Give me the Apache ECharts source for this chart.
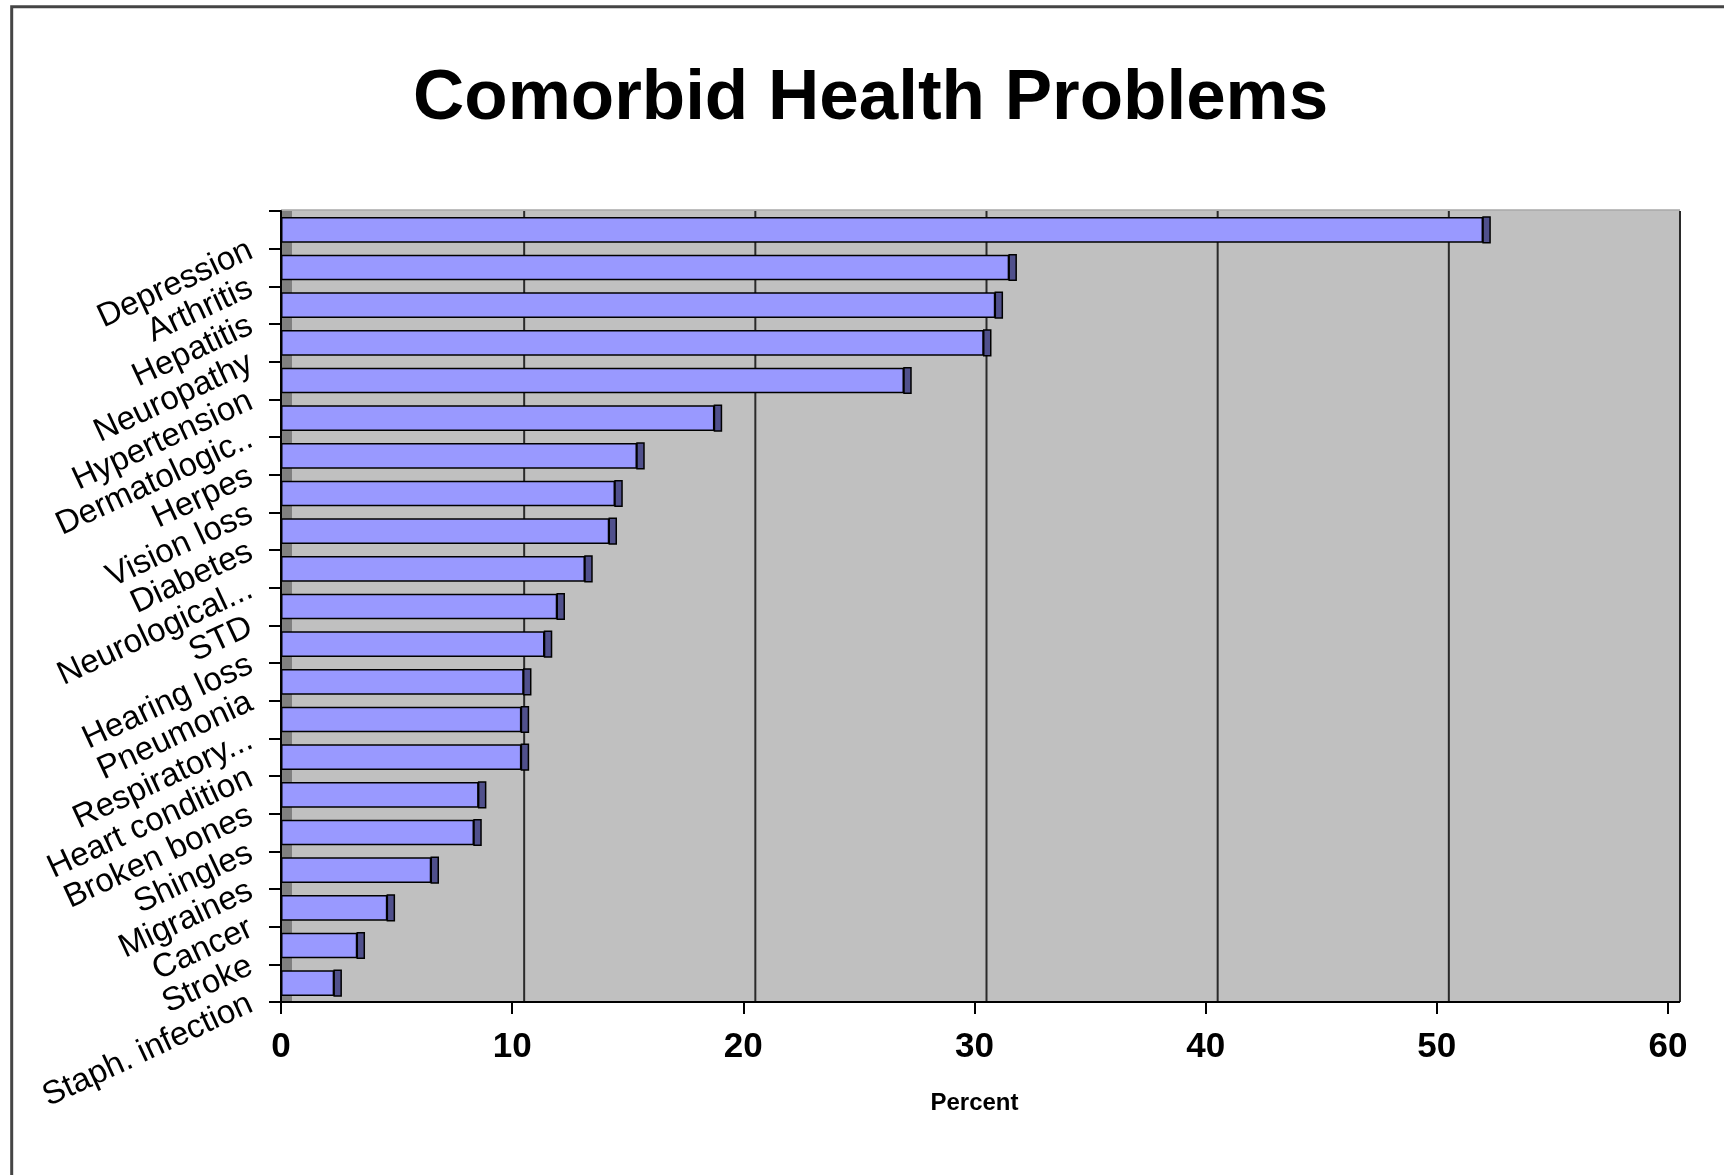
<!DOCTYPE html>
<html>
<head>
<meta charset="utf-8">
<script src="https://cdn.jsdelivr.net/npm/echarts@6/dist/echarts.min.js"></script>
<style>
html,body{margin:0;padding:0;background:#fff;}
#chart{width:1724px;height:1175px;}
</style>
</head>
<body>
<div id="chart"></div>
<script>
// ---- data ----
const categories = [
  'Depression', 'Arthritis', 'Hepatitis', 'Neuropathy', 'Hypertension',
  'Dermatologic..', 'Herpes', 'Vision loss', 'Diabetes', 'Neurological...',
  'STD', 'Hearing loss', 'Pneumonia', 'Respiratory...', 'Heart condition',
  'Broken bones', 'Shingles', 'Migraines', 'Cancer', 'Stroke', 'Staph. infection'
];
const percents = [
  52.0, 31.5, 30.9, 30.4, 26.95,
  18.75, 15.4, 14.45, 14.2, 13.15,
  11.95, 11.4, 10.5, 10.4, 10.4,
  8.55, 8.35, 6.5, 4.6, 3.3, 2.3
];
const xTickValues = [0, 10, 20, 30, 40, 50, 60];
const titleText = 'Comorbid Health Problems';
const xAxisName = 'Percent';

// ---- style ----
const FONT = "'Liberation Sans', Arial, Helvetica, sans-serif";
const DEPTH = 12;          // pseudo-3D depth offset of the back wall
const SIDE = 7;            // visible side face of each bar
const GAP = 0.32;          // category gap ratio

const xMin = xTickValues[0];
const xMax = xTickValues[xTickValues.length - 1];
const xStep = xTickValues[1] - xTickValues[0];

const chart = echarts.init(document.getElementById('chart'), null, {renderer: 'canvas'});

function wallRender(params, api) {
  const cs = params.coordSys;
  const x0 = cs.x, y0 = cs.y, w = cs.width, h = cs.height;
  const children = [];
  children.push({type: 'rect', shape: {x: x0, y: y0 - 1, width: w + DEPTH, height: h + 1},
    style: {fill: '#C0C0C0'}});
  children.push({type: 'line', shape: {x1: x0, y1: y0 - 1, x2: x0 + w + DEPTH, y2: y0 - 1},
    style: {stroke: '#A8A8A8', lineWidth: 1.5}});
  children.push({type: 'rect', shape: {x: x0, y: y0, width: DEPTH - 1, height: h},
    style: {fill: '#808080'}});
  xTickValues.slice(1).forEach(function (v) {
    const x = api.coord([v, 0])[0] + DEPTH;
    children.push({type: 'line', shape: {x1: x, y1: y0, x2: x, y2: y0 + h},
      style: {stroke: '#2A2A2A', lineWidth: 2}});
  });
  children.push({type: 'line', shape: {x1: x0 + w - 1, y1: y0 + h, x2: x0 + w + DEPTH, y2: y0 + h},
    style: {stroke: '#000', lineWidth: 2}});
  return {type: 'group', children: children};
}

function sideRender(params, api) {
  const v = api.value(0), idx = api.value(1);
  const p = api.coord([v, idx]);
  const band = api.size([0, 1])[1];
  const bw = band * (1 - GAP);
  return {type: 'rect', shape: {x: p[0], y: p[1] - bw / 2, width: SIDE, height: bw},
    style: {fill: '#50508C', stroke: '#000', lineWidth: 1.5}};
}

const option = {
  animation: false,
  backgroundColor: '#ffffff',
  title: {
    text: titleText,
    left: 408,
    top: 59,
    textStyle: {fontFamily: FONT, fontSize: 71, fontWeight: 'bold', color: '#000', lineHeight: 70}
  },
  graphic: [{
    type: 'rect', silent: true,
    shape: {x: 11.7, y: 6.7, width: 1800, height: 1300},
    style: {fill: 'none', stroke: '#454545', lineWidth: 3}
  }],
  grid: {left: 281, right: 56, top: 211, bottom: 173, containLabel: false},
  xAxis: {
    type: 'value', min: xMin, max: xMax, interval: xStep, z: 5,
    axisLine: {show: true, lineStyle: {color: '#000', width: 2}},
    axisTick: {show: true, length: 12, lineStyle: {color: '#000', width: 2}},
    axisLabel: {fontFamily: FONT, fontSize: 35, fontWeight: 'bold', color: '#000', margin: 28},
    splitLine: {show: false},
    name: xAxisName, nameLocation: 'middle', nameGap: 89,
    nameTextStyle: {fontFamily: FONT, fontSize: 24, fontWeight: 'bold', color: '#000'}
  },
  yAxis: {
    type: 'category', data: categories, inverse: true, z: 5,
    axisLine: {show: true, lineStyle: {color: '#000', width: 2}},
    axisTick: {show: true, length: 12, lineStyle: {color: '#000', width: 2}},
    axisLabel: {interval: 0, rotate: 25, fontFamily: FONT, fontSize: 33, color: '#000',
      margin: 39, verticalAlign: 'top', lineHeight: 42},
    splitLine: {show: false}
  },
  series: [
    {type: 'custom', name: 'wall', z: 1, silent: true, clip: false,
     data: [[0, 0]], encode: {x: 0, y: 1}, renderItem: wallRender},
    {type: 'bar', name: 'Percent', data: percents, z: 2,
     barCategoryGap: (GAP * 100) + '%',
     itemStyle: {color: '#9999FF', borderColor: '#000', borderWidth: 1.5}},
    {type: 'custom', name: 'side', z: 3, silent: true, clip: false,
     data: percents.map(function (v, i) { return [v, i]; }),
     encode: {x: 0, y: 1}, renderItem: sideRender}
  ]
};
chart.setOption(option);
</script>
</body>
</html>
